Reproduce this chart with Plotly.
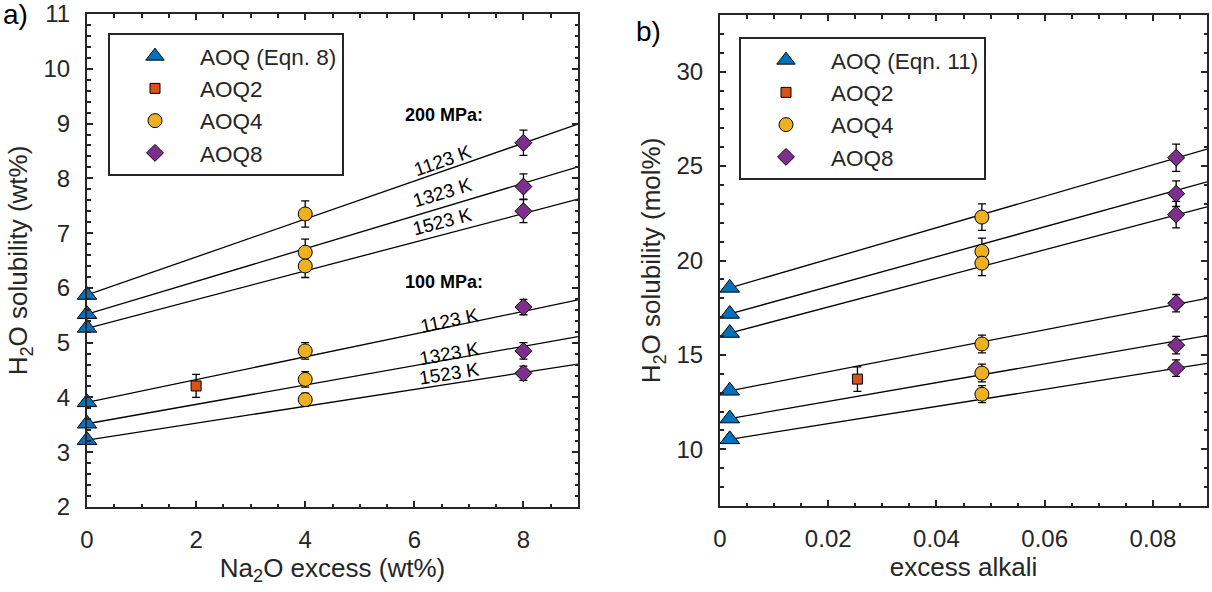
import math
import plotly.graph_objects as go

# ---------------- data : panel a (wt%) ----------------
a_aoq_x = [0, 0, 0, 0, 0, 0]
a_aoq_y = [5.87, 5.52, 5.27, 3.91, 3.52, 3.22]

a_aoq2_x = [2]
a_aoq2_y = [4.21]
a_aoq2_err = [0.21]

a_aoq4_x = [4, 4, 4, 4, 4, 4]
a_aoq4_y = [7.35, 6.65, 6.40, 4.85, 4.33, 3.96]
a_aoq4_err = [0.24, 0.24, 0.21, 0.15, 0.14, 0.12]

a_aoq8_x = [8, 8, 8, 8, 8, 8]
a_aoq8_y = [8.65, 7.85, 7.40, 5.65, 4.85, 4.44]
a_aoq8_err = [0.23, 0.23, 0.21, 0.14, 0.15, 0.13]

a_line_x = [0, 9]
a_line_start = [5.87, 5.52, 5.26, 3.91, 3.52, 3.22]
a_line_end = [8.99, 8.21, 7.62, 5.78, 5.11, 4.61]

a_temps = ["1123 K", "1323 K", "1523 K", "1123 K", "1323 K", "1523 K"]
a_pressures = ["200 MPa:", "100 MPa:"]
a_yticks = [2, 3, 4, 5, 6, 7, 8, 9, 10, 11]
a_xticks = [0, 2, 4, 6, 8]

# ---------------- data : panel b (mol%) ----------------
b_aoq_x = [0.0018] * 6
b_aoq_y = [18.55, 17.17, 16.16, 13.10, 11.63, 10.53]

b_aoq2_x = [0.0254]
b_aoq2_y = [13.72]
b_aoq2_err = [0.65]

b_aoq4_x = [0.0484] * 6
b_aoq4_y = [22.30, 20.48, 19.86, 15.58, 14.04, 12.92]
b_aoq4_err = [0.70, 0.70, 0.66, 0.47, 0.47, 0.45]

b_aoq8_x = [0.0843] * 6
b_aoq8_y = [25.44, 23.54, 22.43, 17.74, 15.52, 14.30]
b_aoq8_err = [0.72, 0.68, 0.70, 0.46, 0.46, 0.44]

b_line_x = [0.0018, 0.09]
b_line_start = [18.55, 17.17, 16.16, 13.10, 11.63, 10.53]
b_line_end = [25.90, 24.16, 22.84, 18.00, 16.02, 14.55]

b_yticks = [10, 15, 20, 25, 30]
b_xticks = [0, 0.02, 0.04, 0.06, 0.08]
b_xticklabels = ["0", "0.02", "0.04", "0.06", "0.08"]

# ---------------- styles ----------------
FONT = "Liberation Sans, Arial, Helvetica, sans-serif"
AXC = "#262626"
C_BLUE, C_RED, C_YEL, C_PUR = "#0072BD", "#D95319", "#EDB120", "#7E2F8E"
W, H = 1212, 592

# plot-area pixel boxes (left, right, top, bottom)
A_BOX = (87, 578, 14, 507)
B_BOX = (720, 1207, 15, 506)

def dom_x(box):
    return [box[0] / W, box[1] / W]

def dom_y(box):
    return [1 - box[3] / H, 1 - box[2] / H]

fig = go.Figure()

def add_lines(xs, starts, ends, xa, ya):
    for s, e in zip(starts, ends):
        fig.add_trace(go.Scatter(x=xs, y=[s, e], mode="lines",
                                 line=dict(color="black", width=1.3),
                                 showlegend=False, hoverinfo="skip",
                                 xaxis=xa, yaxis=ya))

add_lines(a_line_x, a_line_start, a_line_end, "x", "y")
add_lines(b_line_x, b_line_start, b_line_end, "x2", "y2")

def err(arr):
    return dict(type="data", array=arr, visible=True, color="black",
                thickness=1.3, width=4)

def pts(x, y, name, symbol, color, size, xa, ya, legend, group, e=None):
    fig.add_trace(go.Scatter(
        x=x, y=y, mode="markers", name=name, cliponaxis=False,
        marker=dict(symbol=symbol, color=color, size=size,
                    line=dict(color="black", width=1)),
        error_y=err(e) if e is not None else None,
        xaxis=xa, yaxis=ya, legend=legend, legendgroup=group))

pts(a_aoq_x, a_aoq_y, "AOQ (Eqn. 8)", "triangle-up", C_BLUE, 17, "x", "y", "legend", "a1")
pts(a_aoq2_x, a_aoq2_y, "AOQ2", "square", C_RED, 10, "x", "y", "legend", "a2", a_aoq2_err)
pts(a_aoq4_x, a_aoq4_y, "AOQ4", "circle", C_YEL, 14, "x", "y", "legend", "a3", a_aoq4_err)
pts(a_aoq8_x, a_aoq8_y, "AOQ8", "diamond", C_PUR, 13, "x", "y", "legend", "a4", a_aoq8_err)

pts(b_aoq_x, b_aoq_y, "AOQ (Eqn. 11)", "triangle-up", C_BLUE, 17, "x2", "y2", "legend2", "b1")
pts(b_aoq2_x, b_aoq2_y, "AOQ2", "square", C_RED, 10, "x2", "y2", "legend2", "b2", b_aoq2_err)
pts(b_aoq4_x, b_aoq4_y, "AOQ4", "circle", C_YEL, 14, "x2", "y2", "legend2", "b3", b_aoq4_err)
pts(b_aoq8_x, b_aoq8_y, "AOQ8", "diamond", C_PUR, 13, "x2", "y2", "legend2", "b4", b_aoq8_err)

tickfont = dict(family=FONT, size=24, color=AXC)
titlefont = dict(family=FONT, size=26, color=AXC)

def axis(rng, tickvals, ticktext, minor_dtick, domain, title, anchor, standoff):
    return dict(range=rng, tickmode="array", tickvals=tickvals,
                ticktext=ticktext, domain=domain,
                anchor=anchor, showgrid=False, zeroline=False,
                showline=True, linewidth=2, linecolor=AXC, mirror="ticks",
                ticks="inside", ticklen=6, tickwidth=2, tickcolor=AXC,
                minor=dict(dtick=minor_dtick, tick0=0, ticks="inside", ticklen=3.5,
                           tickwidth=2, tickcolor=AXC, showgrid=False),
                tickfont=tickfont, ticklabelstandoff=10,
                ticklabeloverflow="allow",
                title=dict(text=title, font=titlefont, standoff=standoff),
                automargin=False, fixedrange=True)

A_XR, A_YR = [0, 9], [2, 11]
B_XR, B_YR = [0, 0.09], [7, 33]

LEG = dict(xanchor="left", yanchor="top", bgcolor="white", bordercolor=AXC,
           borderwidth=2, font=dict(family=FONT, size=22.5, color=AXC),
           itemwidth=80, tracegroupgap=0)

layout = dict(
    width=W, height=H, margin=dict(l=0, r=0, t=0, b=0),
    paper_bgcolor="white", plot_bgcolor="white",
    font=dict(family=FONT, color=AXC),
    xaxis=axis(A_XR, a_xticks, [str(v) for v in a_xticks], 0.5, dom_x(A_BOX),
               "Na<sub>2</sub>O excess (wt%)", "y", 6),
    yaxis=axis(A_YR, a_yticks, [str(v) for v in a_yticks], 0.2, dom_y(A_BOX),
               "H<sub>2</sub>O solubility (wt%)", "x", 8),
    xaxis2=axis(B_XR, b_xticks, b_xticklabels, 0.005, dom_x(B_BOX),
                "excess alkali", "y2", 6),
    yaxis2=axis(B_YR, b_yticks, [str(v) for v in b_yticks], 1, dom_y(B_BOX),
                "H<sub>2</sub>O solubility (mol%)", "x2", 8),
    legend=dict(x=108 / W, y=1 - 33 / H, **LEG),
    legend2=dict(x=739 / W, y=1 - 37 / H, **LEG),
    showlegend=True,
)
fig.update_layout(**layout)

# ---- annotations ----
ann = []
ann.append(dict(text="a)", x=15 / W, y=1 - 15 / H, xref="paper", yref="paper",
                xanchor="center", yanchor="middle",
                showarrow=False, font=dict(family=FONT, size=28, color="black")))
ann.append(dict(text="b)", x=648 / W, y=1 - 31 / H, xref="paper", yref="paper",
                xanchor="center", yanchor="middle",
                showarrow=False, font=dict(family=FONT, size=28, color="black")))

# pressure labels (data coords)
press_pos = [(6.54, 9.16), (6.54, 6.11)]
for t, (px_, py_) in zip(a_pressures, press_pos):
    ann.append(dict(text="<b>" + t + "</b>", x=px_, y=py_, xref="x", yref="y",
                    xanchor="center", yanchor="middle",
                    showarrow=False, font=dict(family=FONT, size=18, color="black")))

# temperature labels along lines; angle computed from the axis scales
ppx = (A_BOX[1] - A_BOX[0]) / (A_XR[1] - A_XR[0])
ppy = (A_BOX[3] - A_BOX[2]) / (A_YR[1] - A_YR[0])
temp_pos = [(6.52, 8.33), (6.52, 7.75), (6.52, 7.21),
            (6.65, 5.40), (6.65, 4.81), (6.65, 4.43)]
for t, (tx, ty), s, e in zip(a_temps, temp_pos, a_line_start, a_line_end):
    dy = (e - s) * ppy
    dx = (a_line_x[1] - a_line_x[0]) * ppx
    ang = -math.degrees(math.atan2(dy, dx))
    ann.append(dict(text=t, x=tx, y=ty, xref="x", yref="y", showarrow=False,
                    xanchor="center", yanchor="middle",
                    textangle=ang, font=dict(family=FONT, size=19, color="black")))

fig.update_layout(annotations=ann)
fig.write_html("out.html")
